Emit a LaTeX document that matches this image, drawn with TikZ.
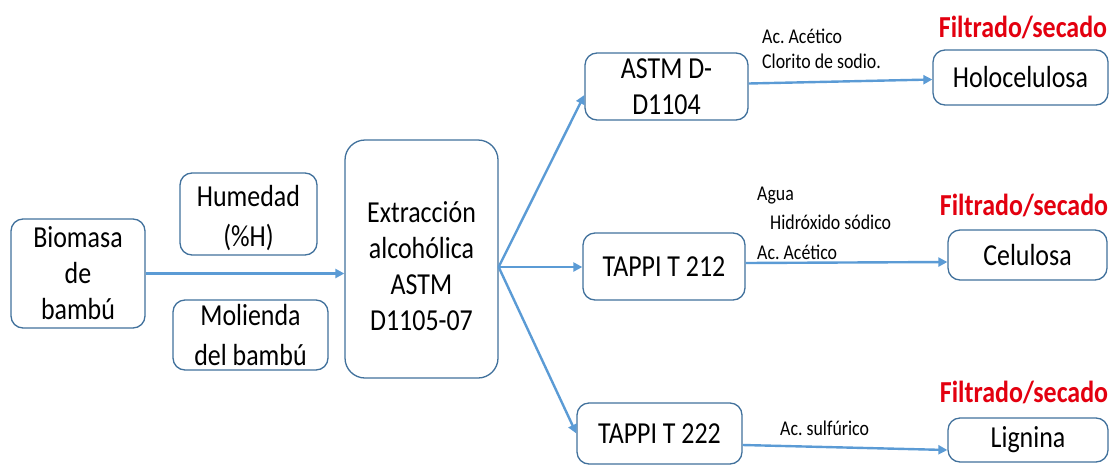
\documentclass[tikz,border=0pt]{standalone}
\usepackage{fontspec}
\setmainfont{Carlito}[FakeStretch=0.85]
\frenchspacing
\usetikzlibrary{arrows.meta}
\definecolor{boxc}{HTML}{41719C}
\definecolor{arrc}{HTML}{5B9BD5}
\definecolor{redc}{HTML}{E3000F}
\begin{document}
\begin{tikzpicture}[x=1pt,y=-1pt,
  box/.style={draw=boxc, line width=1.3pt, rounded corners=12pt, fill=white, align=center, inner sep=0pt, font=\fontsize{30.5}{36}\selectfont},
  arr/.style={draw=arrc, line width=2.4pt, -{Triangle[length=9pt,width=9pt]}},
  lbl/.style={font=\fontsize{21}{24}\selectfont, anchor=west, inner sep=0pt},
  filt/.style={font=\fontsize{30.5}{34}\selectfont\bfseries, text=redc, inner sep=0pt}]
\useasboundingbox (0,0) rectangle (1115,466);
% boxes
\node[box, minimum width=134pt, minimum height=109pt] (bio) at (78,273.5) {Biomasa\\de\\bambú};
\node[box, minimum width=137pt, minimum height=82pt, font=\fontsize{30.5}{40}\selectfont] (hum) at (248.5,214) {\rule{0pt}{30pt}Humedad\\(\%H)};
\node[box, minimum width=155pt, minimum height=70pt, font=\fontsize{30.5}{40}\selectfont] (mol) at (250.5,335) {Molienda\\del bambú};
\node[box, rounded corners=20pt, minimum width=153pt, minimum height=238pt] (ext) at (421.5,259) {\rule{0pt}{35pt}Extracción\\alcohólica\\ASTM\\D1105-07};
\node[box, minimum width=163pt, minimum height=67pt] (astm) at (666.5,86.5) {ASTM D-\\D1104};
\node[box, minimum width=162pt, minimum height=67pt] (t212) at (664,266.5) {TAPPI T 212};
\node[box, minimum width=165pt, minimum height=61pt] (t222) at (659.5,433.5) {TAPPI T 222};
\node[box, minimum width=175pt, minimum height=55pt] (holo) at (1020.5,77.5) {Holocelulosa};
\node[box, minimum width=159pt, minimum height=50pt] (cel) at (1027.5,255) {Celulosa};
\node[box, minimum width=160pt, minimum height=44pt] (lig) at (1028,440) {Lignina};
% red labels
\node[filt] (f1) at (1023,27) {Filtrado/secado};
\node[filt] (f2) at (1024,205) {Filtrado/secado};
\node[filt] (f3) at (1024,392) {Filtrado/secado};
% reagent labels
\node[lbl] (l1) at (762,36) {Ac. Acético};
\node[lbl] (l2) at (762,61) {Clorito de sodio.};
\node[lbl] (l3) at (757,196) {Agua};
\node[lbl] (l4) at (770,222) {Hidróxido sódico};
\node[lbl] (l5) at (757,252) {Ac. Acético};
\node[lbl] (l6) at (780,428) {Ac. sulfúrico};
% connectors
\coordinate (br) at ([yshift=-8pt]ext.east);
\draw[arr] (bio.east) -- (bio.east -| ext.west);
\draw[arr] (br) -- ([yshift=-8.5pt]astm.west);
\draw[arr] (br) -- (br -| t212.west);
\draw[arr] (br) -- (t222.west);
\draw[arr] ([yshift=3pt]astm.east) -- ([yshift=-2pt]holo.west);
\draw[arr] ([yshift=3.5pt]t212.east) -- ([yshift=-7pt]cel.west);
\draw[arr] ([yshift=-11.5pt]t222.east) -- ([yshift=-10pt]lig.west);
\end{tikzpicture}
\end{document}
